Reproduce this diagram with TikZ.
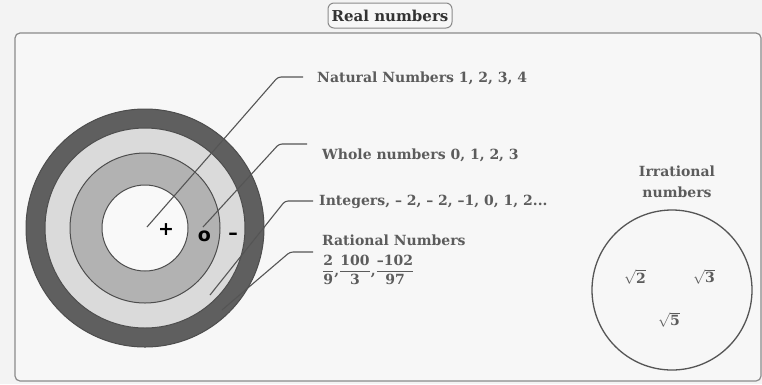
\documentclass[tikz,border=0pt]{standalone}
\usepackage{fontspec}
\setmainfont{DejaVu Serif}
\setsansfont{DejaVu Sans}
\definecolor{bgcol}{HTML}{F3F3F3}
\definecolor{framefill}{HTML}{F7F7F7}
\definecolor{framecol}{HTML}{8A8A8A}
\definecolor{darkband}{HTML}{5F5F5F}
\definecolor{lightband}{HTML}{DADADA}
\definecolor{midband}{HTML}{B2B2B2}
\definecolor{innerfill}{HTML}{F9F9F9}
\definecolor{ringedge}{HTML}{4D4D4D}
\definecolor{linegray}{HTML}{555555}
\definecolor{labelgray}{HTML}{5C5C5C}
\definecolor{titlegray}{HTML}{333333}
\begin{document}
\begin{tikzpicture}[x=1pt,y=-1pt,
  lbl/.style={anchor=west,inner sep=0pt,text=labelgray,font=\bfseries\fontsize{14}{16}\selectfont},
  leader/.style={draw=linegray,line width=1.1pt,rounded corners=3pt},
  ring/.style={draw=ringedge,line width=1pt},
  sym/.style={font=\sffamily\bfseries\fontsize{19}{19}\selectfont,text=black,inner sep=0pt},
  titlebox/.style={draw=framecol,fill=framefill,line width=1pt,rounded corners=6pt,
    minimum width=124pt,minimum height=25pt,inner sep=0pt,text=titlegray,
    font=\bfseries\fontsize{15}{17}\selectfont},
  irr/.style={inner sep=0pt,text=labelgray,font=\bfseries\fontsize{14}{16}\selectfont}]
\useasboundingbox (0,0) rectangle (762,384);
\fill[bgcol] (0,0) rectangle (762,384);
\draw[framecol,fill=framefill,line width=1.2pt,rounded corners=5pt] (15,33) rectangle (761,381);
\node[titlebox] (title) at (390,15.5) {Real numbers};

% concentric circles
\coordinate (c) at (145,228);
\draw[ring,fill=darkband] (c) circle[radius=119];
\draw[ring,fill=lightband] (c) circle[radius=100];
\draw[ring,fill=midband] (c) circle[radius=75];
\draw[ring,fill=innerfill] (c) circle[radius=43];

% signs
\node[sym] (plus) at (166,230) {+};
\node[sym] (zero) at (204.5,236) {o};
\node[sym] (minus) at (233,236) {–};

% leader coordinates
\coordinate (s1) at (147,227); \coordinate (k1) at (278,77);  \coordinate (e1) at (303,77);
\coordinate (s2) at (203,227); \coordinate (k2) at (279,144); \coordinate (e2) at (307,144);
\coordinate (s3) at (210,295); \coordinate (k3) at (285,201); \coordinate (e3) at (313,201);
\coordinate (s4) at (222,310); \coordinate (k4) at (290,252); \coordinate (e4) at (313,252);

\draw[leader] (s1) -- (k1) -- (e1);
\draw[leader] (s2) -- (k2) -- (e2);
\draw[leader] (s3) -- (k3) -- (e3);
\draw[leader] (s4) -- (k4) -- (e4);

% labels
\node[lbl] (nat) at (317,78) {Natural Numbers 1, 2, 3, 4};
\node[lbl] (whole) at (322,155) {Whole numbers 0, 1, 2, 3};
\node[lbl] (int) at (319,202) {Integers, – 2, – 2, –1, 0, 1, 2...};
\node[lbl] (rat) at (322,240) {Rational Numbers};
\node[lbl] (fr) at (322,270) {$\displaystyle\frac{\mbox{2}}{\mbox{9}}\mbox{,}\frac{\mbox{100}}{\mbox{3}}\mbox{,}\frac{\mbox{–102}}{\mbox{97}}$};

% irrational numbers
\node[irr,align=center,font=\bfseries\fontsize{14}{21}\selectfont] (irrlbl) at (677,182) {Irrational\\numbers};
\draw[linegray,line width=1.3pt] (672,290) circle[radius=80];
\node[irr] (r2) at (635,277) {$\sqrt{\mbox{2}}$};
\node[irr] (r3) at (704,277) {$\sqrt{\mbox{3}}$};
\node[irr] (r5) at (669,320) {$\sqrt{\mbox{5}}$};
\end{tikzpicture}
\end{document}
